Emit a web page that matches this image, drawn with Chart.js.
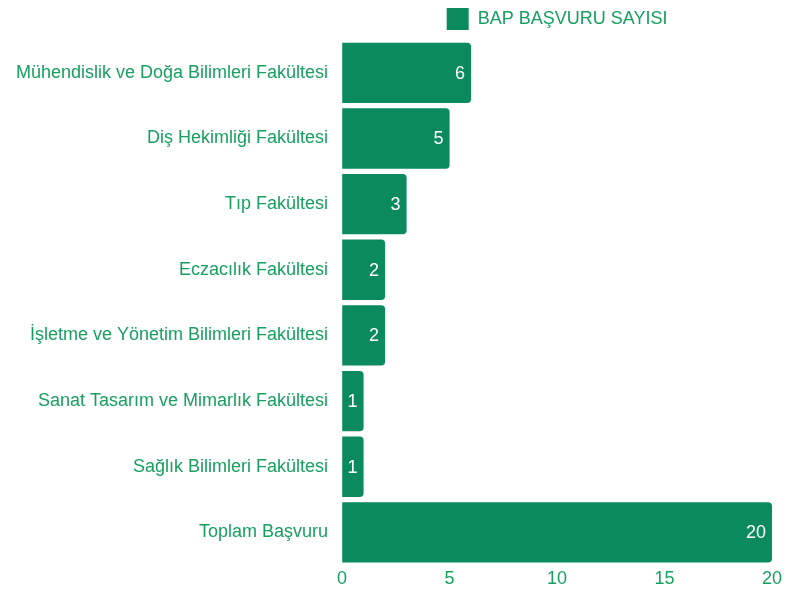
<!DOCTYPE html>
<html>
<head>
<meta charset="utf-8">
<script src="https://cdn.jsdelivr.net/npm/chart.js@4"></script>
<style>
  html, body { margin: 0; padding: 0; background: #fff; }
  #wrap { width: 796px; height: 590px; }
</style>
</head>
<body>
<div id="wrap"><canvas id="chart"></canvas></div>
<script>
"use strict";

// data
const faculties = [
    "Mühendislik ve Doğa Bilimleri Fakültesi",
    "Diş Hekimliği Fakültesi",
    "Tıp Fakültesi",
    "Eczacılık Fakültesi",
    "İşletme ve Yönetim Bilimleri Fakültesi",
    "Sanat Tasarım ve Mimarlık Fakültesi",
    "Sağlık Bilimleri Fakültesi",
    "Toplam Başvuru"
];
const applications = [6, 5, 3, 2, 2, 1, 1, 20];
const xTicks = [0, 5, 10, 15, 20];

const barGreen = "#0b8a5e";
const textGreen = "#17a05f";
const fontFamily = "'Liberation Sans', Arial, sans-serif";

// little plugin to write the value inside the end of each bar
const valueLabels = {
    id: "valueLabels",
    afterDatasetsDraw(chart) {
        const ctx = chart.ctx;
        const meta = chart.getDatasetMeta(0);
        ctx.save();
        ctx.fillStyle = "#ffffff";
        ctx.font = "18px " + fontFamily;
        ctx.textAlign = "right";
        ctx.textBaseline = "middle";
        meta.data.forEach(function (bar, i) {
            ctx.fillText(String(applications[i]), bar.x - 6, bar.y + 1);
        });
        ctx.restore();
    }
};

const data = {
    labels: faculties,
    datasets: [
        {
            label: "BAP BAŞVURU SAYISI",
            data: applications,
            backgroundColor: barGreen,
            borderWidth: 0,
            borderRadius: 4,
            borderSkipped: "start",
            barPercentage: 0.92,
            categoryPercentage: 1
        }
    ]
};

const config = {
    type: "bar",
    data: data,
    options: {
        indexAxis: "y",
        responsive: true,
        maintainAspectRatio: false,
        animation: false,
        layout: { padding: { left: 2, right: 24, top: 0, bottom: -3 } },
        plugins: {
            legend: {
                fullSize: false,
                labels: {
                    color: textGreen,
                    boxWidth: 22,
                    boxHeight: 22,
                    padding: 8,
                    font: { family: fontFamily, size: 18 }
                }
            },
            tooltip: { enabled: false }
        },
        scales: {
            x: {
                min: 0,
                max: 20,
                afterBuildTicks(axis) {
                    axis.ticks = xTicks.map(v => ({ value: v }));
                },
                grid: { display: false, drawTicks: false },
                border: { display: false },
                ticks: {
                    color: textGreen,
                    padding: 3,
                    font: { family: fontFamily, size: 18 }
                }
            },
            y: {
                grid: { display: false, drawTicks: false },
                border: { display: false },
                ticks: {
                    color: textGreen,
                    padding: 14,
                    font: { family: fontFamily, size: 18 }
                }
            }
        }
    },
    plugins: [valueLabels]
};

const bapChart = new Chart(document.getElementById("chart"), config);
</script>
</body>
</html>
